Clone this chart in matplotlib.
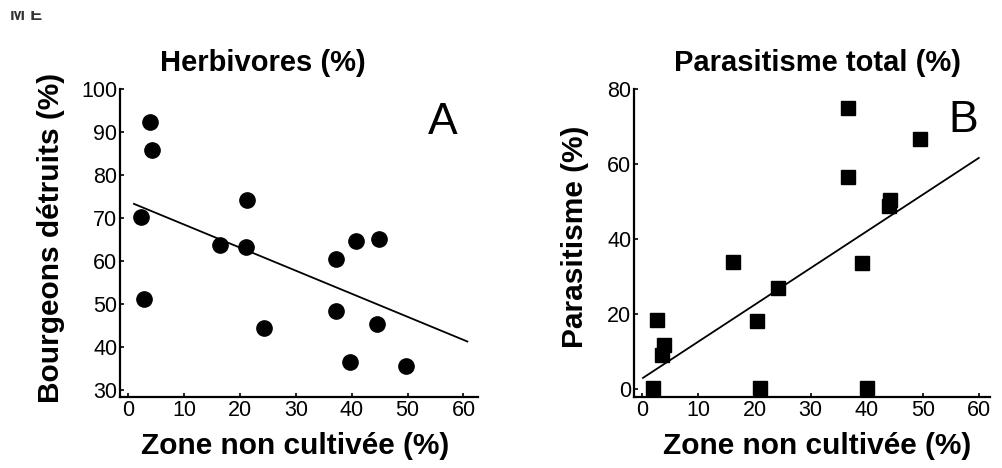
import numpy as np
import matplotlib
matplotlib.use('Agg')
import matplotlib.pyplot as plt
from matplotlib.transforms import Bbox, TransformedBbox

plt.rcParams['font.family'] = ['Liberation Sans', 'DejaVu Sans']

# Panel A - herbivores
herb_x = [2.2, 3.8, 4.2, 2.8, 16.4, 21.3, 21.1, 24.3, 37.2, 40.8, 44.8, 37.2, 44.6, 39.7, 49.7]
herb_y = [70.2, 92.3, 85.9, 51.2, 63.8, 74.1, 63.2, 44.4, 60.4, 64.6, 65.1, 48.4, 45.4, 36.6, 35.6]
herb_fit_x = [1.0, 60.7]
herb_fit_y = [73.3, 41.3]

# Panel B - parasitism
para_x = [1.9, 2.6, 3.8, 3.5, 16.1, 20.5, 21.0, 24.1, 36.6, 36.6, 39.1, 40.0, 44.2, 43.9, 49.5]
para_y = [0.3, 18.3, 11.6, 8.9, 33.7, 18.0, 0.2, 27.0, 74.8, 56.5, 33.5, 0.2, 50.4, 48.8, 66.6]
para_fit_x = [0.1, 60.0]
para_fit_y = [2.9, 61.6]

x_ticks = [0, 10, 20, 30, 40, 50, 60]
herb_ticks = [30, 40, 50, 60, 70, 80, 90, 100]
para_ticks = [0, 20, 40, 60, 80]

W, H = 1003, 468
fig = plt.figure(figsize=(W / 100, H / 100), dpi=100)


def px_axes(left, top, right, bottom):
    return fig.add_axes([left / W, 1 - bottom / H, (right - left) / W, (bottom - top) / H])


def style(ax):
    for side in ('top', 'right'):
        ax.spines[side].set_visible(False)
    for side in ('left', 'bottom'):
        ax.spines[side].set_linewidth(1.6)
    ax.tick_params(direction='in', length=3, width=1.2, labelsize=15.5, pad=2)
    ax.set_xticks(x_ticks)


axA = px_axes(120, 89, 478, 397)
axA.plot(herb_x, herb_y, 'o', color='black', markersize=11, clip_on=False)
axA.plot(herb_fit_x, herb_fit_y, color='black', linewidth=1.3)
axA.set_xlim(-1.5, 62.6)
axA.set_ylim(28.4, 100)
axA.set_yticks(herb_ticks)
style(axA)
axA.set_ylabel('Bourgeons détruits (%)', fontsize=21.5, fontweight='bold')
axA.set_xlabel('Zone non cultivée (%)', fontsize=21.5, fontweight='bold')
axA.yaxis.set_label_coords(-0.155, 0.516)
axA.xaxis.set_label_coords(0.49, -0.115)

axB = px_axes(634, 89, 990, 397)
axB.plot(para_x, para_y, 's', color='black', markersize=10, clip_on=False)
axB.plot(para_fit_x, para_fit_y, color='black', linewidth=1.3)
axB.set_xlim(-1.5, 62)
axB.set_ylim(-2.2, 80)
axB.set_yticks(para_ticks)
style(axB)
axB.set_ylabel('Parasitisme (%)', fontsize=21.5, fontweight='bold')
axB.set_xlabel('Zone non cultivée (%)', fontsize=21.5, fontweight='bold')
axB.yaxis.set_label_coords(-0.125, 0.52)
axB.xaxis.set_label_coords(0.515, -0.115)

fig.text(263 / W, 1 - 63 / H, 'Herbivores (%)', fontsize=21, fontweight='bold',
         ha='center', va='center')
fig.text(817 / W, 1 - 63 / H, 'Parasitisme total (%)', fontsize=21, fontweight='bold',
         ha='center', va='center')
fig.text(443 / W, 1 - 123 / H, 'A', fontsize=32, ha='center', va='center')
fig.text(963 / W, 1 - 120 / H, 'B', fontsize=32, ha='center', va='center')

# cut-off header fragment at the very top
frag = fig.text(10 / W, 1 - 20 / H, 'M E', fontsize=13, fontweight='bold', color='#333333')
frag.set_clip_box(TransformedBbox(Bbox([[0, 0], [1, 1 - 11 / H]]), fig.transFigure))
frag.set_clip_on(True)

fig.savefig('out.png', dpi=100)
